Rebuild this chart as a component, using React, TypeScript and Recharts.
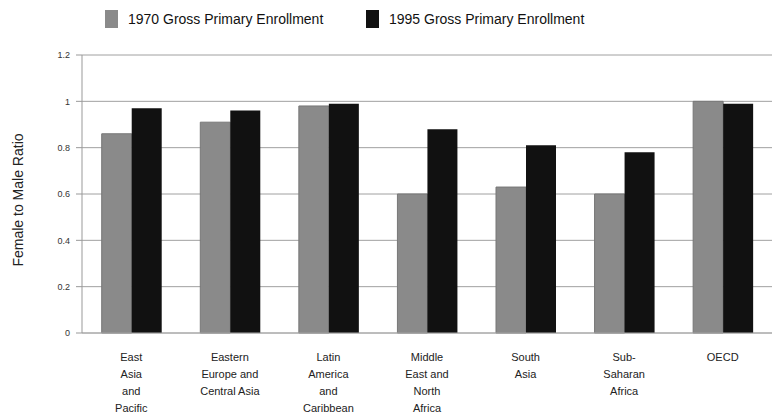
import { BarChart, Bar, XAxis, YAxis, CartesianGrid } from "recharts";

const regions = [
  "East|Asia|and|Pacific",
  "Eastern|Europe and|Central Asia",
  "Latin|America|and|Caribbean",
  "Middle|East and|North|Africa",
  "South|Asia",
  "Sub-|Saharan|Africa",
  "OECD",
];
const enroll1970 = [0.86, 0.91, 0.98, 0.6, 0.63, 0.6, 1.0];
const enroll1995 = [0.97, 0.96, 0.99, 0.88, 0.81, 0.78, 0.99];
const yTicks = [0, 0.2, 0.4, 0.6, 0.8, 1, 1.2];

const data = regions.map((name, i) => ({
  name,
  y1970: enroll1970[i],
  y1995: enroll1995[i],
}));

const FONT = "'Liberation Sans', Arial, sans-serif";

function RegionTick(props: any) {
  const { x, y, payload } = props;
  const lines = String(payload.value).split("|");
  return (
    <text x={x} y={y + 20} textAnchor="middle" fontSize={11} fill="#222" fontFamily={FONT}>
      {lines.map((l, i) => (
        <tspan key={i} x={x} dy={i === 0 ? 0 : 17}>
          {l}
        </tspan>
      ))}
    </text>
  );
}

function LegendRow() {
  const item = (color: string, label: string, left: number) => (
    <div style={{ position: "absolute", left, top: 10, display: "flex", alignItems: "center" }}>
      <div style={{ width: 13, height: 18, background: color, marginRight: 10 }} />
      <span style={{ fontFamily: FONT, fontSize: 14, color: "#111" }}>{label}</span>
    </div>
  );
  return (
    <>
      {item("#8a8a8a", "1970 Gross Primary Enrollment", 105)}
      {item("#111111", "1995 Gross Primary Enrollment", 366)}
    </>
  );
}

export default function App() {
  return (
    <div style={{ position: "absolute", left: 0, top: 0, width: 772, height: 418, background: "#fff" }}>
      <LegendRow />
      <div
        style={{
          position: "absolute",
          left: 18,
          top: 200,
          transform: "translate(-50%, -50%) rotate(-90deg)",
          fontFamily: FONT,
          fontSize: 14,
          color: "#222",
          whiteSpace: "nowrap",
        }}
      >
        Female to Male Ratio
      </div>
      <div style={{ position: "absolute", left: 0, top: 0 }}>
        <BarChart
          width={772}
          height={418}
          data={data}
          margin={{ top: 55, right: 0, left: 0, bottom: 0 }}
          barCategoryGap="20%"
          barGap={0}
        >
          <CartesianGrid vertical={false} stroke="#a0a0a0" strokeWidth={1} />
          <XAxis
            dataKey="name"
            interval={0}
            height={85}
            tick={<RegionTick />}
            tickLine={false}
            axisLine={{ stroke: "#aaa" }}
          />
          <YAxis
            width={82}
            domain={[0, 1.2]}
            ticks={yTicks}
            tick={{ fontSize: 9, fill: "#333", fontFamily: FONT }}
            tickLine={{ stroke: "#999" }}
            axisLine={{ stroke: "#999" }}
            tickSize={6}
            tickMargin={6}
          />
          <Bar dataKey="y1970" fill="#8a8a8a" stroke="#777" isAnimationActive={false} />
          <Bar dataKey="y1995" fill="#111111" isAnimationActive={false} />
        </BarChart>
      </div>
    </div>
  );
}
